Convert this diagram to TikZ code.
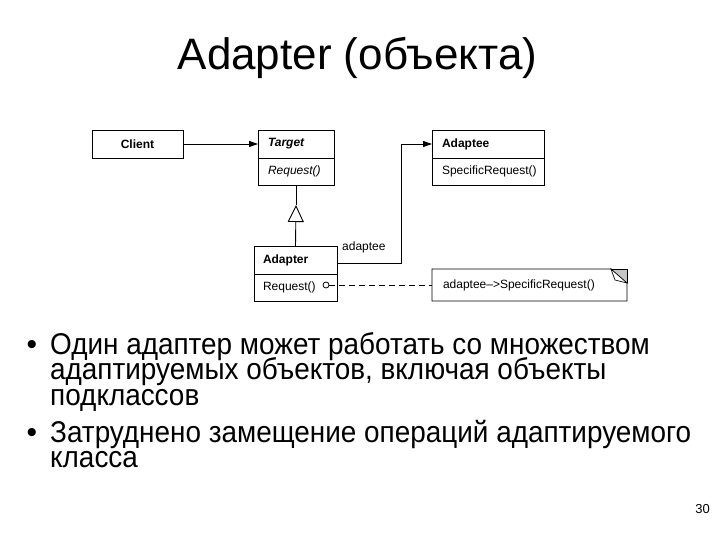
\documentclass[tikz,border=0pt]{standalone}
\usepackage{fontspec}
\setmainfont{Liberation Sans}
\usetikzlibrary{arrows.meta,calc}
\begin{document}
\begin{tikzpicture}[x=1pt,y=-1pt,
  box/.style={draw,line width=0.9pt,inner sep=0pt,outer sep=0pt,minimum height=27pt,font=\fontsize{12}{14}\selectfont},
  lbl/.style={font=\fontsize{12}{14}\selectfont,inner sep=0pt},
  assoc/.style={line width=0.9pt,-{Triangle[length=9pt,width=6pt]}},
  bullettext/.style={anchor=base west,inner sep=0pt,font=\fontsize{30}{25.5}\selectfont},
  ]
\useasboundingbox (0,0) rectangle (720,540);
% title
\node[anchor=base,inner sep=0pt,font=\fontsize{44}{44}\selectfont] (title) at (357.5,70) {Adapter (объекта)};
% classes
\node[box,minimum width=91pt,minimum height=28pt] (client) at (137.5,144) {\bfseries Client};
\node[box,minimum width=76pt,minimum height=28pt,text width=56pt,align=left] (targetH) at (296,144) {\bfseries\itshape Target};
\node[box,minimum width=76pt,text width=56pt,align=left,anchor=north] (targetB) at (targetH.south) {\itshape Request()};
\node[box,minimum width=112pt,minimum height=28pt,text width=92pt,align=left] (adapteeH) at (488,144) {\bfseries Adaptee};
\node[box,minimum width=112pt,text width=92pt,align=left,anchor=north] (adapteeB) at (adapteeH.south) {SpecificRequest()};
\node[box,minimum width=83pt,minimum height=28pt,text width=65pt,align=left] (adapterH) at (295.5,260) {\bfseries Adapter};
\node[box,minimum width=83pt,text width=65pt,align=left,anchor=north] (adapterB) at (adapterH.south) {Request()};
% note
\node[box,minimum width=195pt,minimum height=32pt,text width=173pt,align=left,draw=none] (note) at (529.5,285) {adaptee–>SpecificRequest()};
\draw[line width=0.9pt] (note.north west) -- (611,269) -- (627,283) -- (note.south east) -- (note.south west) -- cycle;
\fill[gray!45] (611,269) -- (627,269) -- (627,283) -- cycle;
\draw[line width=0.9pt] (627,269) -- (627,283);
\draw[line width=0.9pt] (611,269) -- (627,269);
\draw[line width=0.7pt,fill=white] (611,269) -- (615,280) -- (627,283) -- cycle;
% connectors
\draw[assoc] (client.east) -- (targetH.west);
\coordinate (gen) at (296,205);
\draw[line width=0.9pt] (gen) -- (targetB.south);
\draw[line width=0.9pt,-{Triangle[open,length=17pt,width=16pt]}] (adapterH.north) -- (gen);
\draw[assoc] ([yshift=-3pt]adapterH.east) -| ($(adapteeH.west)+(-31,0)$) -- (adapteeH.west);
\node[lbl,anchor=base west] (adlabel) at (342,251) {adaptee};
\node[circle,draw,line width=0.8pt,fill=white,minimum size=6pt,inner sep=0pt] (dot) at (326,285) {};
\draw[line width=0.9pt,dash pattern=on 6pt off 4pt] (dot.east) -- (note.west);
% bullets
\node[bullettext] (b1) at (50,354) {\scalebox{0.93}[1]{\parbox[t]{700pt}{\fontsize{30}{25.5}\selectfont\lineskiplimit=-100pt Один адаптер может работать со множеством\\адаптируемых объектов, включая объекты\\подклассов}}};
\node[bullettext] (b2) at (50,442) {\scalebox{0.93}[1]{\parbox[t]{700pt}{\fontsize{30}{25.5}\selectfont\lineskiplimit=-100pt Затруднено замещение операций адаптируемого\\класса}}};
\node[bullettext,anchor=base] (dot1) at (32,354) {•};
\node[bullettext,anchor=base] (dot2) at (32,442) {•};
% page number
\node[anchor=base east,inner sep=0pt,font=\fontsize{13}{13}\selectfont] (num) at (710,513) {30};
\end{tikzpicture}
\end{document}
